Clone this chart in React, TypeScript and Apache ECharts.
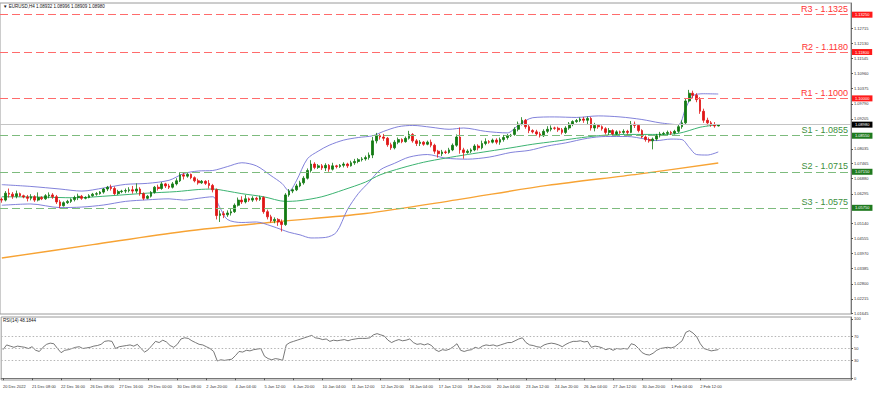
import React, { useEffect, useRef } from "react";
import * as echarts from "echarts";

const FONT = "Liberation Sans, Arial, sans-serif";

const xTickLabels = [
  "20 Dec 2022", "21 Dec 08:00", "22 Dec 16:00", "26 Dec 08:00", "27 Dec 16:00",
  "29 Dec 00:00", "30 Dec 08:00", "2 Jan 20:00", "4 Jan 04:00", "5 Jan 12:00",
  "6 Jan 20:00", "10 Jan 04:00", "11 Jan 12:00", "12 Jan 20:00", "16 Jan 04:00",
  "17 Jan 12:00", "18 Jan 20:00", "20 Jan 04:00", "23 Jan 12:00", "24 Jan 20:00",
  "26 Jan 04:00", "27 Jan 12:00", "30 Jan 20:00", "1 Feb 04:00", "2 Feb 12:00",
];

const priceTickLabels = [
  "1.12715", "1.12130", "1.11545", "1.10960", "1.10375", "1.09790", "1.09205",
  "1.08035", "1.07465", "1.06880", "1.06295", "1.05140", "1.04555", "1.03970",
  "1.03385", "1.02800", "1.02215", "1.01645",
];

const rsiTickLabels = ["100", "70", "50", "30", "0"];
const rsiLevels = [70, 50, 30];

const resistanceNames = ["R3", "R2", "R1"];
const resistanceValues = [1.1325, 1.118, 1.1];
const supportNames = ["S1", "S2", "S3"];
const supportValues = [1.0855, 1.0715, 1.0575];
const lastPrice = 1.0898;

// [open, close, low, high] per H4 bar
const candles = [
  [1.0608,1.0605,1.0595,1.0615],[1.0605,1.0632,1.0600,1.0640],[1.0632,1.0628,1.0615,1.0650],[1.0628,1.0620,1.0610,1.0636],[1.0620,1.0630,1.0612,1.0642],[1.0630,1.0622,1.0618,1.0634],
  [1.0622,1.0617,1.0612,1.0626],[1.0617,1.0612,1.0600,1.0625],[1.0612,1.0618,1.0604,1.0628],[1.0618,1.0605,1.0598,1.0624],[1.0605,1.0615,1.0600,1.0635],[1.0615,1.0610,1.0605,1.0620],
  [1.0610,1.0622,1.0606,1.0628],[1.0622,1.0625,1.0612,1.0635],[1.0625,1.0618,1.0610,1.0632],[1.0618,1.0598,1.0590,1.0625],[1.0598,1.0583,1.0573,1.0606],[1.0583,1.0595,1.0580,1.0600],
  [1.0595,1.0600,1.0590,1.0606],[1.0600,1.0607,1.0594,1.0612],[1.0607,1.0615,1.0600,1.0622],[1.0615,1.0620,1.0605,1.0630],[1.0620,1.0612,1.0606,1.0625],[1.0612,1.0615,1.0608,1.0620],
  [1.0615,1.0622,1.0612,1.0628],[1.0622,1.0628,1.0618,1.0633],[1.0628,1.0630,1.0622,1.0636],[1.0630,1.0636,1.0626,1.0640],
  [1.0636,1.0648,1.0630,1.0652],[1.0648,1.0655,1.0640,1.0660],[1.0655,1.0650,1.0642,1.0665],[1.0650,1.0630,1.0625,1.0658],[1.0630,1.0638,1.0625,1.0645],[1.0638,1.0640,1.0632,1.0645],
  [1.0640,1.0642,1.0632,1.0650],[1.0642,1.0645,1.0635,1.0655],[1.0645,1.0640,1.0630,1.0660],[1.0640,1.0648,1.0632,1.0670],[1.0648,1.0630,1.0622,1.0655],[1.0630,1.0612,1.0605,1.0635],
  [1.0612,1.0620,1.0608,1.0625],[1.0620,1.0635,1.0615,1.0640],[1.0635,1.0655,1.0630,1.0660],[1.0655,1.0650,1.0642,1.0665],[1.0650,1.0668,1.0645,1.0675],[1.0668,1.0660,1.0652,1.0672],
  [1.0660,1.0655,1.0648,1.0668],[1.0655,1.0668,1.0650,1.0675],[1.0668,1.0680,1.0662,1.0690],[1.0680,1.0703,1.0675,1.0713],[1.0703,1.0698,1.0685,1.0710],[1.0698,1.0705,1.0692,1.0710],
  [1.0705,1.0692,1.0686,1.0708],[1.0692,1.0680,1.0674,1.0697],[1.0680,1.0672,1.0665,1.0688],[1.0672,1.0678,1.0668,1.0683],[1.0678,1.0670,1.0664,1.0682],
  [1.0670,1.0662,1.0650,1.0683],[1.0662,1.0645,1.0635,1.0668],[1.0645,1.0545,1.0530,1.0650],[1.0545,1.0552,1.0520,1.0565],[1.0552,1.0548,1.0535,1.0562],[1.0548,1.0555,1.0540,1.0565],
  [1.0555,1.0560,1.0545,1.0570],[1.0560,1.0585,1.0555,1.0592],[1.0585,1.0605,1.0580,1.0615],[1.0605,1.0598,1.0590,1.0620],[1.0598,1.0610,1.0592,1.0625],[1.0610,1.0605,1.0598,1.0615],
  [1.0605,1.0612,1.0598,1.0620],[1.0612,1.0608,1.0600,1.0618],[1.0608,1.0615,1.0602,1.0622],[1.0615,1.0560,1.0552,1.0620],[1.0560,1.0540,1.0530,1.0568],[1.0540,1.0525,1.0518,1.0548],
  [1.0525,1.0530,1.0515,1.0538],[1.0530,1.0520,1.0505,1.0535],[1.0520,1.0510,1.0483,1.0530],[1.0510,1.0625,1.0505,1.0632],[1.0625,1.0640,1.0618,1.0648],[1.0640,1.0645,1.0632,1.0650],
  [1.0645,1.0660,1.0640,1.0668],[1.0660,1.0672,1.0655,1.0680],[1.0672,1.0690,1.0665,1.0698],[1.0690,1.0720,1.0685,1.0728],[1.0720,1.0745,1.0712,1.0760],[1.0745,1.0732,1.0725,1.0752],
  [1.0732,1.0738,1.0726,1.0745],[1.0738,1.0730,1.0722,1.0745],[1.0730,1.0740,1.0718,1.0748],[1.0740,1.0725,1.0715,1.0745],[1.0725,1.0738,1.0720,1.0750],[1.0738,1.0735,1.0728,1.0742],
  [1.0735,1.0740,1.0730,1.0745],[1.0740,1.0745,1.0732,1.0752],[1.0745,1.0738,1.0730,1.0750],[1.0738,1.0750,1.0735,1.0758],[1.0750,1.0755,1.0742,1.0765],[1.0755,1.0762,1.0748,1.0768],
  [1.0762,1.0765,1.0755,1.0772],[1.0765,1.0770,1.0758,1.0778],[1.0770,1.0780,1.0762,1.0790],[1.0780,1.0835,1.0768,1.0850],[1.0835,1.0855,1.0825,1.0866],[1.0855,1.0850,1.0840,1.0862],
  [1.0850,1.0845,1.0835,1.0862],[1.0845,1.0820,1.0812,1.0850],[1.0820,1.0808,1.0800,1.0828],[1.0808,1.0830,1.0802,1.0838],[1.0830,1.0840,1.0822,1.0848],[1.0840,1.0832,1.0826,1.0845],
  [1.0832,1.0845,1.0828,1.0852],[1.0845,1.0860,1.0840,1.0874],[1.0860,1.0835,1.0828,1.0865],[1.0835,1.0825,1.0815,1.0842],[1.0825,1.0830,1.0815,1.0838],[1.0830,1.0822,1.0816,1.0834],
  [1.0822,1.0830,1.0818,1.0836],[1.0830,1.0818,1.0810,1.0840],[1.0818,1.0795,1.0785,1.0824],[1.0795,1.0785,1.0770,1.0800],[1.0785,1.0792,1.0776,1.0800],[1.0792,1.0790,1.0784,1.0798],
  [1.0790,1.0800,1.0785,1.0808],[1.0800,1.0818,1.0795,1.0825],[1.0818,1.0850,1.0812,1.0860],[1.0850,1.0800,1.0785,1.0887],[1.0800,1.0790,1.0766,1.0808],[1.0790,1.0795,1.0785,1.0802],
  [1.0795,1.0800,1.0788,1.0806],[1.0800,1.0815,1.0795,1.0822],[1.0815,1.0808,1.0798,1.0822],[1.0808,1.0825,1.0802,1.0836],[1.0825,1.0832,1.0818,1.0845],[1.0832,1.0830,1.0824,1.0838],
  [1.0830,1.0838,1.0825,1.0844],[1.0838,1.0830,1.0822,1.0845],[1.0830,1.0840,1.0820,1.0848],[1.0840,1.0848,1.0832,1.0858],[1.0848,1.0855,1.0840,1.0862],[1.0855,1.0857,1.0850,1.0862],
  [1.0860,1.0880,1.0855,1.0888],[1.0880,1.0900,1.0872,1.0910],[1.0900,1.0915,1.0895,1.0927],[1.0915,1.0890,1.0882,1.0920],[1.0890,1.0875,1.0865,1.0898],[1.0875,1.0870,1.0864,1.0880],
  [1.0870,1.0862,1.0855,1.0878],[1.0862,1.0855,1.0848,1.0870],[1.0855,1.0872,1.0850,1.0880],[1.0872,1.0880,1.0865,1.0892],[1.0880,1.0885,1.0872,1.0895],[1.0885,1.0884,1.0878,1.0890],
  [1.0884,1.0878,1.0870,1.0890],[1.0878,1.0868,1.0860,1.0885],[1.0868,1.0885,1.0862,1.0892],[1.0885,1.0900,1.0878,1.0908],[1.0900,1.0910,1.0892,1.0915],[1.0910,1.0914,1.0905,1.0920],
  [1.0914,1.0920,1.0908,1.0926],[1.0920,1.0915,1.0905,1.0928],[1.0915,1.0922,1.0900,1.0930],[1.0922,1.0885,1.0875,1.0928],[1.0885,1.0895,1.0872,1.0905],[1.0895,1.0890,1.0882,1.0898],
  [1.0890,1.0882,1.0875,1.0895],[1.0882,1.0868,1.0860,1.0888],[1.0868,1.0875,1.0858,1.0885],[1.0875,1.0862,1.0855,1.0880],[1.0862,1.0870,1.0858,1.0876],[1.0870,1.0868,1.0862,1.0875],
  [1.0868,1.0872,1.0862,1.0880],[1.0872,1.0868,1.0860,1.0878],[1.0868,1.0900,1.0865,1.0912],[1.0900,1.0895,1.0885,1.0910],[1.0895,1.0875,1.0868,1.0900],[1.0875,1.0850,1.0845,1.0880],
  [1.0850,1.0840,1.0832,1.0856],[1.0840,1.0835,1.0828,1.0848],[1.0835,1.0842,1.0802,1.0848],[1.0842,1.0855,1.0835,1.0862],[1.0855,1.0862,1.0848,1.0870],[1.0862,1.0864,1.0855,1.0870],
  [1.0864,1.0868,1.0858,1.0875],[1.0868,1.0865,1.0858,1.0874],[1.0865,1.0872,1.0860,1.0878],[1.0872,1.0890,1.0866,1.0898],[1.0890,1.0905,1.0882,1.0915],[1.0905,1.0990,1.0900,1.0998],
  [1.0990,1.1020,1.0985,1.1033],[1.1020,1.1012,1.1000,1.1030],[1.1012,1.0995,1.0985,1.1020],[1.0995,1.0950,1.0940,1.1005],[1.0950,1.0915,1.0905,1.0960],[1.0915,1.0905,1.0895,1.0925],
  [1.0905,1.0898,1.0890,1.0912],[1.0898,1.0893,1.0886,1.0908],[1.0893,1.0898,1.0891,1.0900],
];

const bbUpper = [
  [0,1.0665],[8,1.0658],[16,1.0648],[22,1.0640],[28,1.0652],[34,1.0666],[40,1.0670],[46,1.0682],[50,1.0708],[54,1.0718],
  [58,1.0720],[62,1.0735],[66,1.0750],[70,1.0738],[74,1.0700],[77,1.0670],[79,1.0640],[81,1.0680],[84,1.0765],[87,1.0795],
  [90,1.0818],[94,1.0838],[98,1.0848],[102,1.0855],[105,1.0872],[109,1.0890],[113,1.0895],[118,1.0888],[123,1.0880],[127,1.0885],
  [133,1.0872],[139,1.0866],[142,1.0895],[146,1.0925],[152,1.0928],[158,1.0926],[164,1.0932],[170,1.0928],[176,1.0918],[181,1.0905],
  [186,1.0898],[188,1.0960],[190,1.1010],[193,1.1018],[197,1.1017],
];

const bbLower = [
  [0,1.0585],[8,1.0590],[16,1.0576],[22,1.0578],[28,1.0586],[34,1.0600],[40,1.0606],[46,1.0610],[50,1.0605],[54,1.0612],
  [58,1.0618],[60,1.0575],[62,1.0530],[66,1.0518],[70,1.0520],[74,1.0505],[77,1.0490],[79,1.0480],[82,1.0470],[85,1.0458],
  [89,1.0460],[92,1.0480],[95,1.0567],[98,1.0630],[101,1.0675],[104,1.0722],[108,1.0748],[112,1.0772],[117,1.0782],[122,1.0768],
  [128,1.0764],[134,1.0772],[140,1.0790],[145,1.0798],[150,1.0815],[155,1.0827],[161,1.0845],[166,1.0852],[172,1.0852],[177,1.0842],
  [180,1.0836],[184,1.0842],[187,1.0840],[189,1.0810],[191,1.0782],[194,1.0780],[197,1.0792],
];

const maGreen = [
  [0,1.0618],[10,1.0617],[20,1.0614],[30,1.0622],[40,1.0632],[48,1.0638],[54,1.0646],[58,1.0648],[62,1.0640],[66,1.0630],
  [72,1.0618],[78,1.0600],[82,1.0603],[88,1.0618],[94,1.0645],[100,1.0675],[104,1.0703],[110,1.0730],[116,1.0752],[122,1.0768],
  [128,1.0782],[134,1.0795],[140,1.0808],[146,1.0822],[152,1.0833],[158,1.0845],[164,1.0855],[170,1.0860],[176,1.0860],[182,1.0860],
  [186,1.0864],[189,1.0875],[192,1.0888],[197,1.0898],
];

const maOrange = [
  [0,1.0380],[25,1.0432],[50,1.0483],[75,1.0520],[100,1.0553],[125,1.0606],[150,1.0662],[175,1.0706],[197,1.0749],
];

const rsi = [
  48,56,54,52,54,53,52,50,53,47,
  45,52,57,59,58,50,43,47,48,50,
  52,53,50,51,52,54,55,57,62,63,
  62,50,53,54,55,56,54,57,50,44,
  48,55,62,60,64,61,55,52,57,66,
  68,67,63,60,57,56,53,50,45,29,
  31,30,31,32,38,45,44,47,46,48,
  49,50,37,33,31,33,32,30,56,60,
  62,64,66,68,70,72,68,67,65,66,
  62,64,63,64,65,63,65,66,67,67,
  67,68,73,75,73,71,64,60,63,65,
  63,64,66,60,57,58,56,58,55,48,
  45,48,47,49,53,58,47,45,47,48,
  52,50,54,56,55,56,54,56,58,60,
  60,63,66,68,60,56,55,53,52,56,
  58,59,58,56,53,57,60,62,62,63,
  61,62,52,54,53,51,48,50,47,50,
  49,50,49,58,56,50,43,40,39,42,
  47,50,51,52,51,53,58,63,77,80,
  76,70,58,50,48,46,47,48.18,
];

const TOTAL_SLOTS = 234;

function levelItems(names: string[], values: number[], textColor: string, tagColor: string) {
  const items: any[] = [];
  values.forEach((v, k) => {
    items.push({
      yAxis: v,
      label: {
        show: true,
        position: "insideEndTop",
        formatter: `${names[k]} - ${v.toFixed(4)}`,
        color: textColor,
        fontSize: 9,
        fontFamily: FONT,
        distance: [3, 1],
      },
    });
    items.push({
      yAxis: v,
      label: {
        show: true,
        position: "end",
        formatter: v.toFixed(5),
        color: "#fff",
        backgroundColor: tagColor,
        fontSize: 4,
        fontFamily: FONT,
        padding: [1, 3, 1, 3],
        distance: 1,
      },
    });
  });
  return items;
}

export default function App() {
  const ref = useRef<HTMLDivElement>(null);

  useEffect(() => {
    document.body.style.margin = "0";
    const chart = echarts.init(ref.current!, null, { renderer: "svg" });
    const cats = Array.from({ length: TOTAL_SLOTS }, (_, i) => String(i));
    const isLabel = (i: number) => i % 8 === 0 && i / 8 < xTickLabels.length;

    const thinLine = (data: any[], color: string, width: number, z = 3) => ({
      type: "line",
      data,
      xAxisIndex: 0,
      yAxisIndex: 0,
      symbol: "none",
      smooth: 0.3,
      lineStyle: { color, width },
      z,
      silent: true,
    });

    chart.setOption({
      animation: false,
      textStyle: { fontFamily: FONT },
      grid: [
        { left: 0, top: 3, width: 851, height: 311, show: true, borderColor: "#9a9a9a", borderWidth: 1 },
        { left: 0, top: 317, width: 851, height: 63, show: true, borderColor: "#9a9a9a", borderWidth: 1 },
      ],
      xAxis: [
        { type: "category", gridIndex: 0, data: cats, boundaryGap: true, show: false },
        {
          type: "category",
          gridIndex: 1,
          data: cats,
          boundaryGap: true,
          axisLine: { show: true, lineStyle: { color: "#777" } },
          axisTick: { show: true, interval: (i: number) => isLabel(i), length: 2, alignWithLabel: true, lineStyle: { color: "#555" } },
          axisLabel: {
            show: true,
            interval: (i: number) => isLabel(i),
            formatter: (_v: string, i: number) => xTickLabels[i / 8] ?? "",
            align: "left",
            fontSize: 4,
            color: "#333",
            margin: 4,
            fontFamily: FONT,
          },
          splitLine: { show: false },
        },
      ],
      yAxis: [
        {
          type: "value",
          gridIndex: 0,
          position: "right",
          min: 1.01627,
          max: 1.13704,
          axisLine: { show: true, lineStyle: { color: "#777" } },
          axisTick: { show: true, length: 2, customValues: priceTickLabels.map(Number), lineStyle: { color: "#555" } },
          axisLabel: {
            show: true,
            customValues: priceTickLabels.map(Number),
            formatter: (v: number) => v.toFixed(5),
            fontSize: 4,
            color: "#333",
            margin: 3,
            fontFamily: FONT,
          },
          splitLine: { show: false },
        },
        {
          type: "value",
          gridIndex: 1,
          position: "right",
          min: -3,
          max: 103,
          axisLine: { show: true, lineStyle: { color: "#777" } },
          axisTick: { show: true, length: 2, customValues: rsiTickLabels.map(Number), lineStyle: { color: "#555" } },
          axisLabel: {
            show: true,
            customValues: rsiTickLabels.map(Number),
            formatter: (v: number) => String(v),
            fontSize: 4,
            color: "#333",
            margin: 3,
            fontFamily: FONT,
          },
          splitLine: { show: false },
        },
      ],
      series: [
        {
          ...thinLine(maOrange, "#f7a334", 1.4, 2),
          markLine: {
            symbol: ["none", "none"],
            silent: true,
            precision: 5,
            lineStyle: { color: "#c4c4c4", type: "solid", width: 1 },
            data: [
              {
                yAxis: lastPrice,
                label: {
                  show: true,
                  position: "end",
                  formatter: lastPrice.toFixed(5),
                  color: "#fff",
                  backgroundColor: "#000",
                  fontSize: 4,
                  fontFamily: FONT,
                  padding: [1, 3, 1, 3],
                  distance: 1,
                },
              },
            ],
          },
        },
        {
          ...thinLine(bbUpper, "#7474d6", 0.9),
          markLine: {
            symbol: ["none", "none"],
            silent: true,
            precision: 5,
            lineStyle: { color: "#ff6b6b", type: [8, 4], width: 1 },
            data: levelItems(resistanceNames, resistanceValues, "#ff3333", "#ff1a1a"),
          },
        },
        {
          ...thinLine(bbLower, "#7474d6", 0.9),
          markLine: {
            symbol: ["none", "none"],
            silent: true,
            precision: 5,
            lineStyle: { color: "#7dbb7d", type: [8, 4], width: 1 },
            data: levelItems(supportNames, supportValues, "#3d8f3d", "#1f7a1f"),
          },
        },
        thinLine(maGreen, "#3cb371", 1),
        {
          type: "candlestick",
          data: candles,
          xAxisIndex: 0,
          yAxisIndex: 0,
          barWidth: 2.2,
          z: 4,
          itemStyle: {
            color: "#127a12",
            color0: "#e01515",
            borderColor: "#127a12",
            borderColor0: "#e01515",
            borderWidth: 0.8,
          },
          silent: true,
        },
        {
          type: "line",
          data: rsi,
          xAxisIndex: 1,
          yAxisIndex: 1,
          symbol: "none",
          lineStyle: { color: "#555", width: 0.8 },
          silent: true,
          markLine: {
            symbol: ["none", "none"],
            silent: true,
            label: { show: false },
            lineStyle: { color: "#b5b5b5", type: [1.5, 2], width: 1 },
            data: rsiLevels.map((v) => ({ yAxis: v })),
          },
        },
      ],
      graphic: [
        {
          type: "text",
          left: 3,
          top: 4,
          style: { text: "▼ EURUSD,H4 1.08932 1.08996 1.08909 1.08980", fontSize: 4.5, fill: "#111", fontFamily: FONT },
        },
        {
          type: "text",
          left: 3,
          top: 318,
          style: { text: "RSI(14) 48.1844", fontSize: 4.5, fill: "#111", fontFamily: FONT },
        },
      ],
    });

    return () => chart.dispose();
  }, []);

  return <div ref={ref} style={{ width: 877, height: 394 }} />;
}
